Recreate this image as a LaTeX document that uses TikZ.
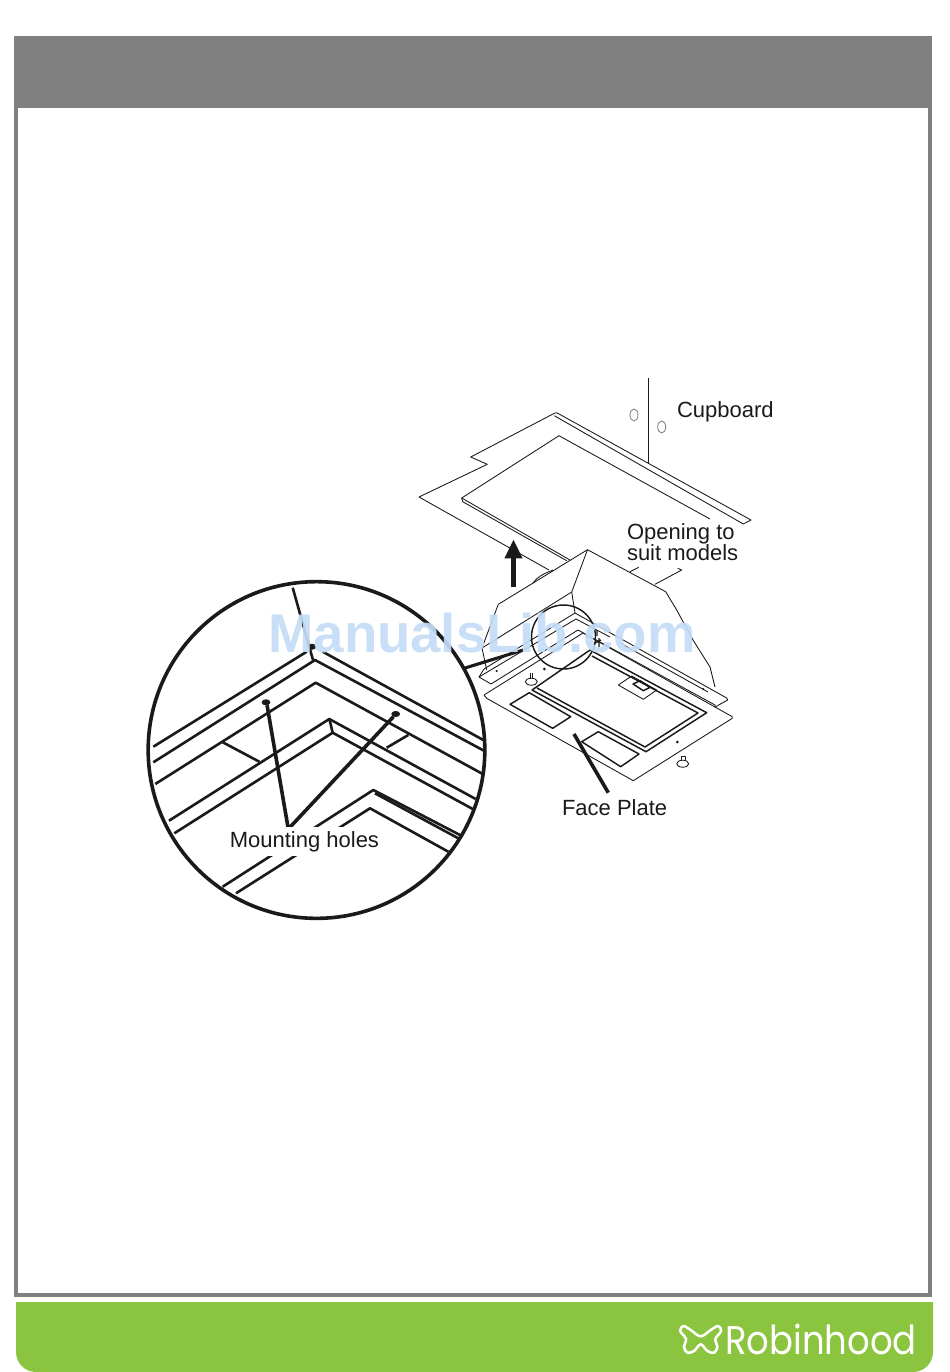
\documentclass[tikz,border=0pt]{standalone}
\usepackage{fontspec}
\usepackage{graphicx}
\setmainfont{Liberation Sans}
\newfontfamily\logofont{Poppins}
\usetikzlibrary{arrows.meta,shapes.geometric}
\definecolor{framegrey}{HTML}{808080}
\definecolor{barGreen}{HTML}{8BC53F}
\definecolor{markBlue}{HTML}{C4DBF6}
\definecolor{inkdark}{HTML}{1A1A1A}
\tikzset{
  tag/.style={anchor=base west,inner sep=0pt,outer sep=0pt,font=\fontsize{16.5pt}{16.5pt}\selectfont,text=inkdark},
  fine/.style={line width=0.65pt,draw=inkdark,line join=round},
  mid/.style={line width=1.1pt,draw=inkdark,line join=round},
  zoomed/.style={line width=1.95pt,draw=inkdark,line join=round},
  leader/.style={line width=2.7pt,draw=inkdark},
  hole/.style={ellipse,fill=inkdark,draw=inkdark,line width=0.5pt,inner sep=0pt,minimum width=6pt,minimum height=4pt}
}
\begin{document}
\begin{tikzpicture}[x=0.75pt,y=-0.75pt]
    \useasboundingbox (0,0) rectangle (950,1372);

    % page frame
    \fill[framegrey] (14,36) rectangle (932,108);
    \draw[framegrey,line width=3pt] (16,38) rectangle (930,1295);
    \fill[barGreen] (16,1302) -- (933,1302) [rounded corners=15pt] -- (933,1372) -- (16,1372) [sharp corners] -- cycle;

    % cupboard
    \begin{scope}[fine]
    \draw (549,570) -- (419,497) -- (487.3,464.3) -- (470.7,457) -- (554.3,413.3) -- (556.7,412.7) -- (751,520) -- (743.3,524) -- (554.3,415.7);
    \draw (710,519) -- (559,435.7) -- (461.7,498) -- (570,560);
    \draw (461.7,498) -- (462.7,501.7) -- (566.7,560.7);
    \draw (648.3,378.3) -- (648.3,463.3);
    \draw[draw=gray] (634,415) ellipse (4 and 6);
    \draw[draw=gray] (661.7,427) ellipse (4 and 6);
    \end{scope}

    \coordinate (arrowfoot) at (513.5,586.7);
    \coordinate (arrowtip) at (513.5,539.3);
    \draw[line width=3.75pt,draw=inkdark,fill=inkdark,-{Triangle[width=12.5pt,length=14.25pt]}] (arrowfoot) -- (arrowtip);

    % hood
    \begin{scope}[fine]
    \draw (498.3,604.3) -- (587.5,549.7) -- (665.7,591.7) -- (676.7,610) -- (693,640) -- (710,667) -- (715,687);
    \draw (498.3,604.3) -- (482,648) -- (486.7,670);
    \draw (587.5,549.7) -- (571.7,592) -- (575,613);
    \draw (482,648) -- (571.7,592);
    \draw (533,583) .. controls (537,577) and (543,574) .. (553,570);
    \draw (630,571.7) -- (638.7,567.3);
    \draw (655,584.3) -- (681.7,570) -- (677.7,568.3);

    % upper flange
    \draw (484,669) -- (575,613) -- (726.7,698) -- (727.7,700) -- (715,707) -- (715,705) -- (578,630) -- (491,684) -- (479,677) -- (484,669);
    \draw (479,677) -- (576,619) -- (610,637);
    \draw (620,643) -- (708,692);

    % face plate
    \draw (484,695) -- (583,633) -- (732.3,716.7) -- (732.3,718.3) -- (633.3,780.7) -- (486.7,698.3) -- (484,695);
    \end{scope}

    \begin{scope}[mid]
    \draw (532,690) -- (646,751.7) -- (706.7,712.7) -- (590,650) -- cycle;
    \draw (537,688) -- (645,747) -- (698,713) -- (592,656);
    \draw (510,704.3) -- (529.3,692.7) -- (570.7,716.7) -- (552.7,728.3) -- cycle;
    \draw (581.7,741.7) -- (598.3,731.7) -- (639,754) -- (620.7,766.7) -- cycle;
    \end{scope}

    \begin{scope}[fine]
    \draw (618.3,685) -- (631.7,676) -- (656.7,690) -- (643.3,699.3) -- cycle;
    \draw[mid] (633,684) -- (640,680.7) -- (650,687.3) -- (643.3,690.7) -- cycle;
    \draw (531.3,681.7) ellipse (6 and 3.5);
    \draw (530,673) -- (530,678.5) (532.7,673) -- (532.7,678.5);
    \draw (682.7,763.7) ellipse (6 and 3.5);
    \draw (681,761) -- (681,756) -- (685,756) -- (685,761);
    \end{scope}
    \draw[mid] (597,630) -- (597,636) (599,638) -- (599,647) (595,643) -- (601,640);
    \fill[inkdark] (677.3,742) circle (1.5) (544.3,669) circle (1.5) (496.7,671) circle (1.2) (703.3,689) circle (1.2);

    % lens on the hood and its enlargement
    \node[circle,draw=inkdark,line width=1.1pt,inner sep=0pt,minimum size=48pt] (lenssmall) at (563.5,637) {};
    \node[circle,draw=inkdark,line width=2.7pt,inner sep=0pt,outer sep=0pt,minimum size=252.5pt] (lensbig) at (316.5,750) {};
    \coordinate (lenstip) at (523.3,650);
    \draw[leader,line width=2.3pt] (lensbig.29) -- (lenstip);

    \begin{scope}[zoomed]
    \draw (292.7,587.7) -- (313,660);
    \draw (153.3,746.7) -- (306.7,651.7);
    \draw (322.7,651.7) -- (483.3,740);
    \draw (153.3,762.3) -- (315,660) -- (484,750.7);
    \draw (155.3,784) -- (315.7,682.7) -- (483.3,774.3);
    \draw (169,820.7) -- (329.3,719) -- (475.7,799);
    \draw (174.3,833.3) -- (332.7,732.7) -- (473.3,809.3);
    \draw (329.3,719) -- (332.7,732.7);
    \draw (221.7,741.7) -- (259.3,761.7);
    \draw (386.7,747.7) -- (408.3,735);
    \draw (222.7,886.7) -- (373.3,790) -- (460,835);
    \draw (375,793.3) -- (458.3,838.3);
    \draw (236,893.3) -- (370,808.3) -- (448.3,851.7);
    \end{scope}

    \node[hole] (holetop) at (312,646.7) {};
    \node[hole] (holeleft) at (266,702.3) {};
    \node[hole] (holeright) at (395.7,714) {};
    \coordinate (mountingjoin) at (288.3,829);
    \draw[leader] (holeleft.-70) -- (mountingjoin) -- (holeright.-130);

    % labels
    \node[tag] (cupboard) at (677,417.5) {Cupboard};
    \node[tag] (opening) at (627,539) {Opening to};
    \node[tag] (suit) at (627,560) {suit models};
    \node[tag] (faceplate) at (562,815.5) {Face Plate};
    \node[tag,fill=white,inner xsep=1pt,inner ysep=3pt] (mounting) at (228.5,847) {Mounting holes};

    \coordinate (faceplatefoot) at (608.3,792.7);
    \coordinate (faceplatetip) at (574,734);
    \draw[leader] (faceplatefoot) -- (faceplatetip);

    % logo
    \draw[white,line width=1.9pt,line join=round] plot[smooth cycle,tension=0.6] coordinates {(700.7,1336.3) (690.7,1330) (683.3,1326) (680.3,1331) (686,1339) (684,1346.7) (687.3,1352.7) (694,1351) (700.7,1344.3) (707.4,1351) (714.1,1352.7) (717.4,1346.7) (715.4,1339) (721.1,1331) (718.1,1326) (710.7,1330)};
    \node[anchor=base west,inner sep=0pt,text=white,font=\logofont\fontsize{30pt}{30pt}\selectfont] (logo) at (725,1354) {\scalebox{0.885}[1]{Robinhood}};

    \node[anchor=base west,inner sep=0pt,text=markBlue,text opacity=0.92,font=\bfseries\fontsize{40.9pt}{40.9pt}\selectfont] (watermark) at (268,652) {ManualsLib.com};
\end{tikzpicture}
\end{document}
